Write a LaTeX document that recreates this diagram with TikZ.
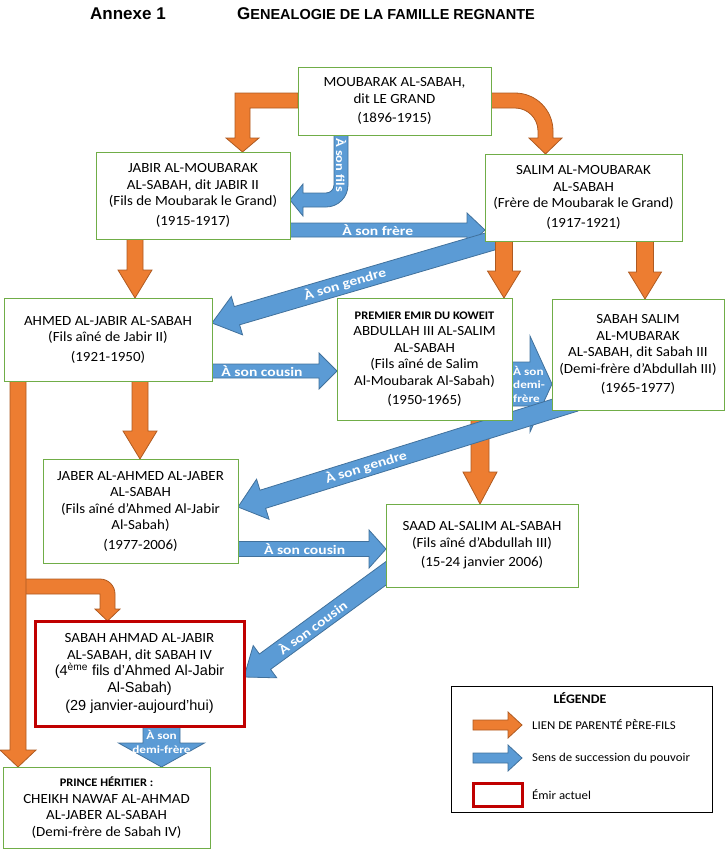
\documentclass[tikz,border=0pt]{standalone}
\usepackage{fontspec}
\setmainfont[FakeStretch=1.07]{Carlito}
\newfontfamily\arialfont{Liberation Sans}
\newfontfamily\lblfont[FakeStretch=1.2]{Carlito}
\usetikzlibrary{calc}
\pgfdeclarelayer{background}
\pgfsetlayers{background,main}
\definecolor{orfill}{RGB}{237,125,49}
\definecolor{ordraw}{RGB}{174,90,33}
\definecolor{blfill}{RGB}{91,155,213}
\definecolor{bldraw}{RGB}{65,113,156}
\definecolor{boxgreen}{RGB}{112,173,71}
\definecolor{emirred}{RGB}{192,0,0}
\tikzset{
  person/.style={draw=boxgreen,fill=white,line width=0.8pt,align=center,inner sep=2pt,outer sep=0pt,font=\fontsize{14}{16.5}\selectfont},
  emir/.style={person,draw=emirred,line width=3pt},
  orangearr/.style={fill=orfill,draw=ordraw,line width=0.8pt},
  bluearr/.style={fill=blfill,draw=bldraw,line width=0.8pt},
  lbl/.style={text=white,inner sep=0pt,font=\lblfont\bfseries\fontsize{13}{13}\selectfont},
  smalllbl/.style={lbl,align=center,font=\lblfont\bfseries\fontsize{11}{13.5}\selectfont},
  legtext/.style={anchor=west,inner sep=0pt,font=\fontsize{12}{14}\selectfont},
}
% block arrow: style, from, to, half shaft, half head, head length
\newcommand{\blockarrow}[6]{%
  \coordinate (ba-s) at (#2);
  \coordinate (ba-t) at (#3);
  \coordinate (ba-h) at ($(ba-t)!#6pt!(ba-s)$);
  \draw[#1] ($(ba-s)!#4pt!90:(ba-t)$) -- ($(ba-h)!#4pt!-90:(ba-s)$)
    -- ($(ba-h)!#5pt!-90:(ba-s)$) -- (ba-t) -- ($(ba-h)!#5pt!90:(ba-s)$)
    -- ($(ba-h)!#4pt!90:(ba-s)$) -- ($(ba-s)!#4pt!-90:(ba-t)$) -- cycle;
}
\begin{document}
\begin{tikzpicture}[x=1pt,y=-1pt]
\useasboundingbox (0,0) rectangle (727,852);

\node[anchor=base west,inner sep=0pt,font=\arialfont\bfseries\fontsize{17}{17}\selectfont] (annexe) at (90,19.5) {Annexe 1};
\node[anchor=base west,inner sep=0pt,font=\arialfont\bfseries] (titre) at (237,19.5)
  {{\fontsize{17}{17}\selectfont G}{\fontsize{14.5}{17}\selectfont ENEALOGIE DE LA FAMILLE REGNANTE}};

% the family
\node[person,minimum width=193pt,minimum height=68pt] (moubarak) at (394.5,101)
  {MOUBARAK AL-SABAH,\\ dit LE GRAND\\[3pt] (1896-1915)};
\node[person,minimum width=194pt,minimum height=87pt] (jabir) at (193,195.5)
  {JABIR AL-MOUBARAK\\ AL-SABAH, dit JABIR II\\ (Fils de Moubarak le Grand)\\[3pt] (1915-1917)};
\node[person,minimum width=197pt,minimum height=87pt] (salim) at (583.5,197.5)
  {SALIM AL-MOUBARAK\\ AL-SABAH\\ (Frère de Moubarak le Grand)\\[3pt] (1917-1921)};
\node[person,minimum width=208pt,minimum height=83pt] (ahmed) at (108,339.5)
  {AHMED AL-JABIR AL-SABAH\\ (Fils aîné de Jabir II)\\[3pt] (1921-1950)};
\node[person,minimum width=175pt,minimum height=122pt] (abdullah) at (424.5,359)
  {{\bfseries\fontsize{11.6}{13.5}\selectfont PREMIER EMIR DU KOWEIT}\\ ABDULLAH III AL-SALIM\\ AL-SABAH\\ (Fils aîné de Salim\\ Al-Moubarak Al-Sabah)\\[3pt] (1950-1965)};
\node[person,minimum width=172pt,minimum height=111pt] (sabahiii) at (638,354.5)
  {SABAH SALIM\\ AL-MUBARAK\\ AL-SABAH, dit Sabah III\\ (Demi-frère d’Abdullah III)\\[3pt] (1965-1977)};
\node[person,minimum width=195pt,minimum height=104pt] (jaber) at (140.5,511)
  {JABER AL-AHMED AL-JABER\\ AL-SABAH\\ (Fils aîné d’Ahmed Al-Jabir\\ Al-Sabah)\\[3pt] (1977-2006)};
\node[person,minimum width=192pt,minimum height=83pt] (saad) at (482,545.5)
  {SAAD AL-SALIM AL-SABAH\\ (Fils aîné d’Abdullah III)\\[3pt] (15-24 janvier 2006)};
\node[emir,minimum width=209pt,minimum height=105pt] (sabahiv) at (139.5,673.5)
  {SABAH AHMAD AL-JABIR\\ AL-SABAH, dit SABAH IV\\
   {\arialfont\fontsize{14.5}{16}\selectfont (4\textsuperscript{ème} fils d’Ahmed Al-Jabir}\\
   {\arialfont\fontsize{14.5}{16}\selectfont Al-Sabah)}\\[2pt]
   {\arialfont\fontsize{14.5}{16}\selectfont (29 janvier-aujourd’hui)}};
\node[person,minimum width=207pt,minimum height=81pt] (prince) at (106.5,807.5)
  {{\bfseries\fontsize{11.6}{13.5}\selectfont PRINCE HÉRITIER :}\\ CHEIKH NAWAF AL-AHMAD\\ AL-JABER AL-SABAH\\ (Demi-frère de Sabah IV)};

\begin{pgfonlayer}{background}
% succession
\draw[bluearr] (moubarak.south -| 334,0) -- (334,185) .. controls (334,189.4) and (330.4,193) .. (326,193)
  -- (303,193) -- (303,184) -- (jabir.east |- 0,200) -- (303,216) -- (303,207) -- (326,207)
  .. controls (338.2,207) and (348,197.2) .. (348,185) -- (moubarak.south -| 348,0) -- cycle;
\node[lbl,rotate=-90,font=\lblfont\bfseries\fontsize{12}{12}\selectfont] (fils) at (341,165) {À son fils};
\blockarrow{bluearr}{jabir.east |- 0,230}{salim.west |- 0,230}{7}{17}{18}
\path (ba-s) -- (ba-t) node[lbl,pos=.45] (frere) {À son frère};
\coordinate (gendre1) at (495,240);
\blockarrow{bluearr}{gendre1}{ahmed.east |- 0,323}{9.5}{20}{26}
\path (ba-s) -- (ba-t) node[lbl,pos=.53,sloped] (gendrei) {À son gendre};

% parent - child
\draw[orangearr] (moubarak.west |- 0,93) -- (235,93) -- (235,138) -- (226,138) -- (jabir.north -| 242.5,0)
  -- (259,138) -- (250,138) -- (250,108) -- (moubarak.west |- 0,108) -- cycle;
\draw[orangearr] (moubarak.east |- 0,93) -- (515,93) .. controls (536,93) and (553,110) .. (553,131)
  -- (553,138) -- (562,138) -- (salim.north -| 545.5,0) -- (529,138) -- (538,138) -- (538,131)
  .. controls (538,118.3) and (527.7,108) .. (515,108) -- (moubarak.east |- 0,108) -- cycle;
\blockarrow{orangearr}{jabir.south -| 135,0}{ahmed.north -| 135,0}{8}{17}{28}
\blockarrow{orangearr}{salim.south -| 504,0}{abdullah.north -| 504,0}{8.5}{16.5}{27}
\blockarrow{orangearr}{salim.south -| 645,0}{sabahiii.north -| 645,0}{8.5}{16.5}{27}
\blockarrow{orangearr}{ahmed.south -| 140,0}{jaber.north -| 140,0}{8}{17}{28}
\blockarrow{orangearr}{abdullah.south -| 480,0}{saad.north -| 480,0}{9}{17}{32}
\draw[orangearr] (18,579) -- (100,579) .. controls (108.3,579) and (115,585.7) .. (115,594) -- (115,609)
  -- (120,609) -- (sabahiv.north -| 107.5,0) -- (95,609) -- (100,609) -- (100,594) -- (18,594) -- cycle;
\blockarrow{orangearr}{ahmed.south -| 18,0}{prince.north -| 18,0}{8}{18}{17}

% succession, lower part
\blockarrow{bluearr}{ahmed.east |- 0,371}{abdullah.west |- 0,371}{7}{18}{18}
\path (ba-s) -- (ba-t) node[lbl,pos=.4] (cousini) {À son cousin};
\blockarrow{bluearr}{abdullah.east |- 0,384}{sabahiii.west |- 0,384}{22}{48}{22}
\node[smalllbl,anchor=west,align=left] (demii) at (513,384) {À son\\demi-\\frère};
\coordinate (gendre2) at (575,402);
\blockarrow{bluearr}{gendre2}{jaber.east |- 0,507}{9.5}{21}{26}
\path (ba-s) -- (ba-t) node[lbl,pos=.62,sloped] (gendreii) {À son gendre};
\blockarrow{bluearr}{jaber.east |- 0,549}{saad.west |- 0,549}{7.5}{19}{17}
\path (ba-s) -- (ba-t) node[lbl,pos=.45] (cousinii) {À son cousin};
\coordinate (cousin3) at (396,566);
\blockarrow{bluearr}{cousin3}{sabahiv.east |- 0,677}{9.5}{20}{26}
\path (ba-s) -- (ba-t) node[lbl,pos=.55,sloped] (cousiniii) {À son cousin};
\blockarrow{bluearr}{sabahiv.south -| 161.5,0}{prince.north -| 161.5,0}{18.5}{43}{24}
\node[smalllbl] (demiii) at (161.5,742) {À son\\demi-frère};
\end{pgfonlayer}

% legend
\node[draw=black,line width=1pt,minimum width=261pt,minimum height=126pt,outer sep=0pt] (legende) at (581.5,749) {};
\node[font=\bfseries\fontsize{13}{13}\selectfont] (legtitre) at (580,698) {LÉGENDE};
\coordinate (lego1) at (473,725);
\coordinate (lego2) at (522,725);
\blockarrow{orangearr}{lego1}{lego2}{5}{13}{14}
\node[legtext] (legparent) at (532,725) {LIEN DE PARENTÉ PÈRE-FILS};
\coordinate (legb1) at (473,758);
\coordinate (legb2) at (522,758);
\blockarrow{bluearr}{legb1}{legb2}{5}{13}{14}
\node[legtext] (legpouvoir) at (532,758) {Sens de succession du pouvoir};
\node[draw=emirred,line width=3pt,minimum width=49pt,minimum height=23pt] (legemir) at (497.5,794.5) {};
\node[legtext] (legemirtxt) at (532,795) {Émir actuel};
\end{tikzpicture}
\end{document}
